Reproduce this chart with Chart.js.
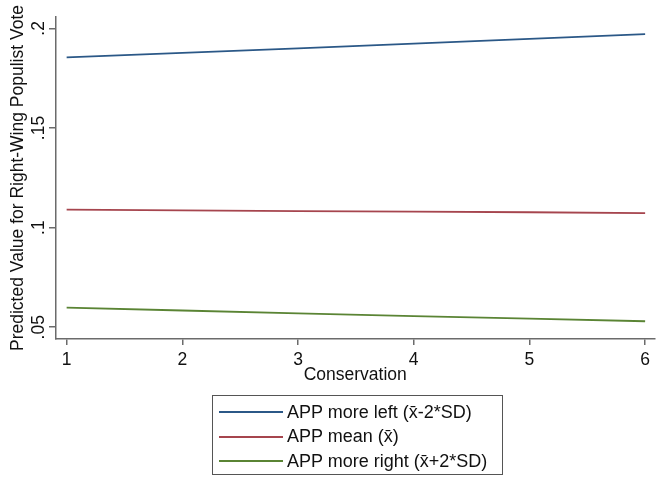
<!DOCTYPE html>
<html>
<head>
<meta charset="utf-8">
<script src="https://cdn.jsdelivr.net/npm/chart.js@4.4.0/dist/chart.umd.min.js"></script>
<style>
  body { margin: 0; background: #fff; }
  .wrap { position: relative; width: 656px; height: 479px; }
  .legende {
    position: absolute; left: 212px; top: 395px; width: 291px; height: 80px;
    box-sizing: border-box; border: 1px solid #555; padding-top: 4px;
    font-family: 'Liberation Sans', Arial, sans-serif; font-size: 18px; color: #111;
  }
  .item { height: 24.5px; display: flex; align-items: center; }
  .trait { width: 64px; height: 2px; margin-left: 6px; margin-right: 4px; }
</style>
</head>
<body>
<div class="wrap">
  <canvas id="graphique" width="656" height="479"></canvas>
  <div class="legende"></div>
</div>
<script>
// Donnees
let conservation = [1, 2, 3, 4, 5, 6];
let plusGauche = [0.1854, 0.1877, 0.1900, 0.1923, 0.1947, 0.1971];
let moyenne = [0.1090, 0.1087, 0.1083, 0.1080, 0.1077, 0.1073];
let plusDroite = [0.0598, 0.0584, 0.0570, 0.0556, 0.0543, 0.0530];

let xTicks = [1, 2, 3, 4, 5, 6];
let yTicks = [0.05, 0.1, 0.15, 0.2];
let yTickLabels = ['.05', '.1', '.15', '.2'];

let series = [
  { label: 'APP more left (x\u0304-2*SD)', valeurs: plusGauche, couleur: '#2b5887' },
  { label: 'APP mean (x\u0304)', valeurs: moyenne, couleur: '#a6454e' },
  { label: 'APP more right (x\u0304+2*SD)', valeurs: plusDroite, couleur: '#5a8434' }
];

const police = { family: "'Liberation Sans', Arial, sans-serif", size: 17.5 };
const policeSerree = { family: police.family, size: 17.5, lineHeight: 1 };
const gris = '#6b6b6b';

/* Labels de l'axe y tournes comme dans Stata */
const labelsY = {
  id: 'labelsY',
  afterDraw(chart) {
    let ctx = chart.ctx;
    let y = chart.scales.y;
    ctx.save();
    ctx.font = police.size + 'px ' + police.family;
    ctx.fillStyle = '#111';
    ctx.textAlign = 'center';
    ctx.textBaseline = 'middle';
    yTicks.forEach((v, i) => {
      ctx.save();
      ctx.translate(39, y.getPixelForValue(v));
      ctx.rotate(-Math.PI / 2);
      ctx.fillText(yTickLabels[i], 0, 0);
      ctx.restore();
    });
    ctx.restore();
  }
};

let chart = new Chart('graphique', {
  type: 'line',
  data: {
    datasets: series.map(s => ({
      label: s.label,
      data: conservation.map((x, i) => ({ x: x, y: s.valeurs[i] })),
      borderColor: s.couleur,
      borderWidth: 1.8,
      pointRadius: 0,
      fill: false,
      tension: 0
    }))
  },
  options: {
    responsive: false,
    animation: false,
    layout: { padding: { top: 17, right: 0, bottom: 95, left: 0 } },
    plugins: { legend: { display: false }, tooltip: { enabled: false } },
    scales: {
      x: {
        type: 'linear', min: 0.908, max: 6.08,
        afterBuildTicks: s => { s.ticks = xTicks.map(v => ({ value: v })); },
        grid: { drawOnChartArea: false, tickLength: 6, color: gris, lineWidth: 1.5 },
        border: { color: gris, width: 1.5 },
        ticks: { font: policeSerree, color: '#111', padding: 6, maxRotation: 0 },
        title: { display: true, text: 'Conservation', font: policeSerree, color: '#111', padding: { top: -8, bottom: 0 } }
      },
      y: {
        min: 0.0441, max: 0.2057,
        afterBuildTicks: s => { s.ticks = yTicks.map(v => ({ value: v })); },
        grid: { drawOnChartArea: false, tickLength: 7, color: gris, lineWidth: 1.5 },
        border: { color: gris, width: 1.5 },
        ticks: { display: false },
        title: { display: true, text: 'Predicted Value for Right-Wing Populist Vote', font: police, color: '#111', padding: { top: 8, bottom: 20 } }
      }
    }
  },
  plugins: [labelsY]
});

// Legende encadree sous le graphique
let legende = document.querySelector('.legende');
chart.data.datasets.forEach(d => {
  let item = document.createElement('div');
  item.className = 'item';
  item.innerHTML = `<span class="trait" style="background:${d.borderColor}"></span><span>${d.label}</span>`;
  legende.appendChild(item);
});
</script>
</body>
</html>
